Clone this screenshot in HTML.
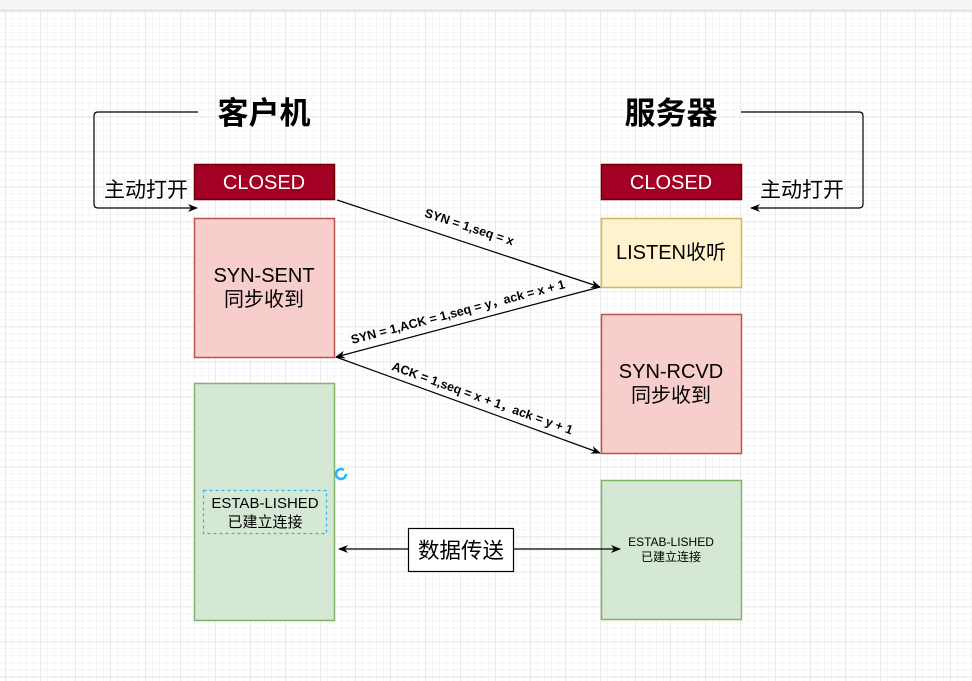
<!DOCTYPE html>
<html><head><meta charset="utf-8"><style>
html,body{margin:0;padding:0;width:972px;height:681px;overflow:hidden;background:#fff}
svg{display:block}
text{font-family:"Liberation Sans","Noto Sans CJK SC",sans-serif}
</style></head><body>
<svg width="972" height="681" viewBox="0 0 972 681" xmlns="http://www.w3.org/2000/svg">
<defs>
<pattern id="minor" x="5" y="11.67" width="7" height="7" patternUnits="userSpaceOnUse">
<path d="M0 0H7M0 0V7" stroke="#ececec" stroke-width="1" fill="none"/>
</pattern>
<pattern id="major" x="5" y="11.67" width="35" height="35" patternUnits="userSpaceOnUse">
<path d="M0 0H35M0 0V35" stroke="#d6d6d6" stroke-width="1" fill="none"/>
</pattern>
<marker id="ar" viewBox="0 0 10 10" refX="9" refY="5" markerWidth="10" markerHeight="10" markerUnits="userSpaceOnUse" orient="auto">
<path d="M0 1L10 5L0 9L3 5Z" fill="#000"/>
</marker>
</defs>
<rect x="0" y="11" width="972" height="670" fill="url(#minor)"/>
<rect x="0" y="11" width="972" height="670" fill="url(#major)"/>
<rect x="0" y="0" width="972" height="10" fill="#f4f5f6"/>
<line x1="0" y1="10.5" x2="972" y2="10.5" stroke="#dadce0"/>

<text x="264" y="124" font-size="31" font-weight="bold" text-anchor="middle">客户机</text>
<text x="671" y="124" font-size="31" font-weight="bold" text-anchor="middle">服务器</text>

<path d="M198 112H98Q94 112 94 116V204Q94 208 98 208H197" fill="none" stroke="#000" stroke-width="1.2" marker-end="url(#ar)"/>
<text x="146" y="197" font-size="21" text-anchor="middle">主动打开</text>
<path d="M741 112H859Q863 112 863 116V204Q863 208 859 208H751" fill="none" stroke="#000" stroke-width="1.2" marker-end="url(#ar)"/>
<text x="802" y="197" font-size="21" text-anchor="middle">主动打开</text>

<rect x="194.5" y="164.5" width="140" height="35" fill="#a20025" stroke="#6f0000" stroke-width="1.5"/>
<text x="264" y="189" font-size="20" fill="#fff" text-anchor="middle">CLOSED</text>
<rect x="601.5" y="164.5" width="140" height="35" fill="#a20025" stroke="#6f0000" stroke-width="1.5"/>
<text x="671" y="189" font-size="20" fill="#fff" text-anchor="middle">CLOSED</text>

<rect x="194.5" y="218.5" width="140" height="139" fill="#f8cecc" stroke="#b85450" stroke-width="1.5"/>
<text x="264" y="282" font-size="20" text-anchor="middle">SYN-SENT</text>
<text x="264" y="306" font-size="20" text-anchor="middle">同步收到</text>

<rect x="601.5" y="218.5" width="140" height="69" fill="#fff2cc" stroke="#d6b656" stroke-width="1.5"/>
<text x="671" y="259" font-size="20" text-anchor="middle">LISTEN收听</text>

<rect x="601.5" y="314.5" width="140" height="139" fill="#f8cecc" stroke="#b85450" stroke-width="1.5"/>
<text x="671" y="378" font-size="20" text-anchor="middle">SYN-RCVD</text>
<text x="671" y="402" font-size="20" text-anchor="middle">同步收到</text>

<rect x="194.5" y="383.5" width="140" height="237" fill="#d5e8d4" stroke="#82b366" stroke-width="1.5"/>
<rect x="203.5" y="490.5" width="123" height="43" fill="none" stroke="#29b6f2" stroke-width="1.2" stroke-dasharray="3 3"/>
<text x="265" y="508" font-size="15" text-anchor="middle">ESTAB-LISHED</text>
<text x="265" y="527" font-size="15" text-anchor="middle">已建立连接</text>

<rect x="601.5" y="480.5" width="140" height="139" fill="#d5e8d4" stroke="#82b366" stroke-width="1.5"/>
<text x="671" y="546" font-size="12" text-anchor="middle">ESTAB-LISHED</text>
<text x="671" y="561" font-size="12" text-anchor="middle">已建立连接</text>

<path d="M344 470A5 5 0 1 0 346 474" fill="none" stroke="#29b6f2" stroke-width="2.5"/>

<line x1="337" y1="200" x2="600" y2="287" stroke="#000" stroke-width="1.2" marker-end="url(#ar)"/>
<line x1="600" y1="287" x2="336" y2="357" stroke="#000" stroke-width="1.2" marker-end="url(#ar)"/>
<line x1="336" y1="357" x2="600" y2="453" stroke="#000" stroke-width="1.2" marker-end="url(#ar)"/>
<text transform="translate(468,231) rotate(18.2)" font-size="12.5" font-weight="bold" text-anchor="middle">SYN = 1,seq = x</text>
<text transform="translate(459,316) rotate(-14.7)" font-size="12.5" font-weight="bold" text-anchor="middle">SYN = 1,ACK = 1,seq = y，ack = x + 1</text>
<text transform="translate(481,402) rotate(19.8)" font-size="12.5" font-weight="bold" text-anchor="middle">ACK = 1,seq = x + 1，ack = y + 1</text>

<line x1="408" y1="549" x2="339" y2="549" stroke="#000" stroke-width="1.2" marker-end="url(#ar)"/>
<line x1="513" y1="549" x2="620" y2="549" stroke="#000" stroke-width="1.2" marker-end="url(#ar)"/>
<rect x="408.5" y="528.5" width="105" height="43" fill="#fff" stroke="#000" stroke-width="1.2"/>
<text x="461" y="558" font-size="21.5" text-anchor="middle">数据传送</text>
</svg>
</body></html>
